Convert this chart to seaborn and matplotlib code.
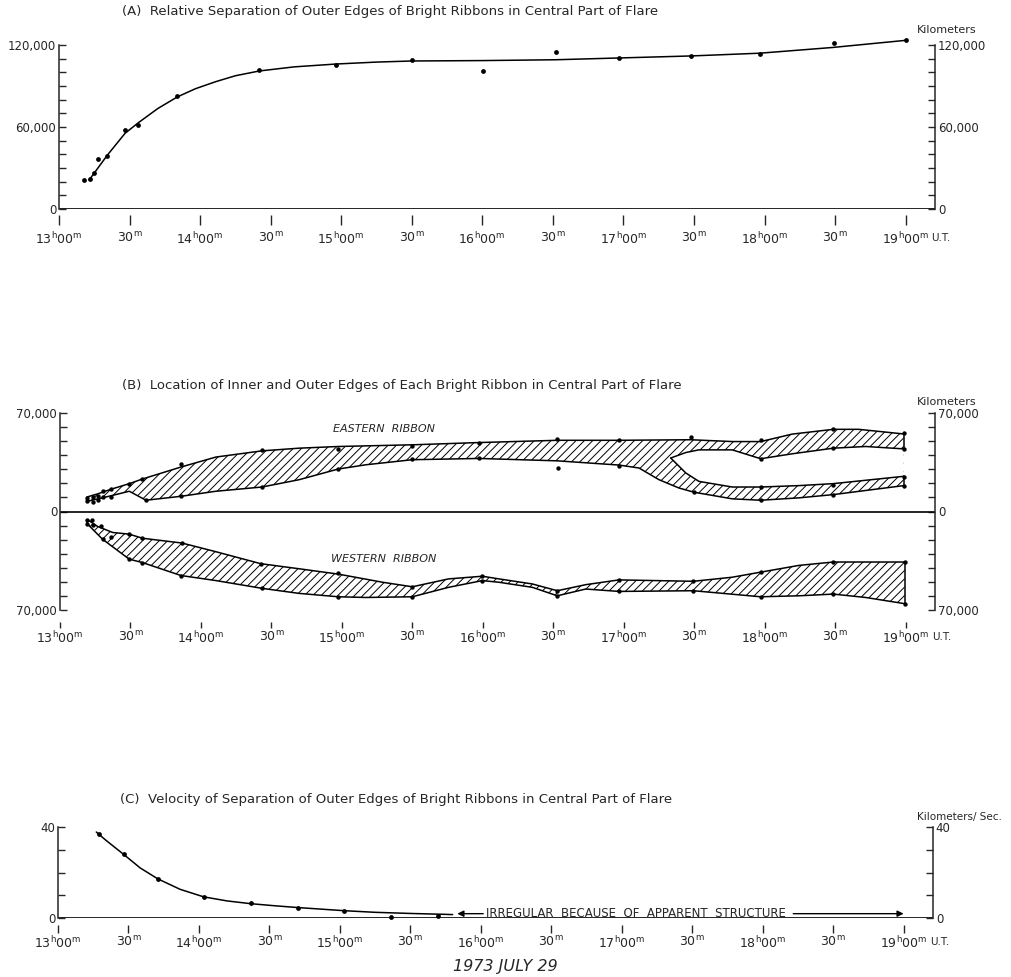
import numpy as np
import matplotlib
matplotlib.use("Agg")
import matplotlib.pyplot as plt
from matplotlib.ticker import MultipleLocator
import seaborn as sns

# time axis: minutes after 13h00m U.T., 1973 July 29
tick_min = [0, 30, 60, 90, 120, 150, 180, 210, 240, 270, 300, 330, 360]
tick_labels = [r"$\mathrm{13^h00^m}$", r"$\mathrm{30^m}$", r"$\mathrm{14^h00^m}$",
               r"$\mathrm{30^m}$", r"$\mathrm{15^h00^m}$", r"$\mathrm{30^m}$",
               r"$\mathrm{16^h00^m}$", r"$\mathrm{30^m}$", r"$\mathrm{17^h00^m}$",
               r"$\mathrm{30^m}$", r"$\mathrm{18^h00^m}$", r"$\mathrm{30^m}$",
               r"$\mathrm{19^h00^m}$"]

# (A) separation of outer edges, km
a_pts_t = [10.6, 13.2, 14.9, 16.6, 20.4, 28.1, 33.7, 50.3, 85.2, 118, 150, 180.2,
           211.3, 238.2, 268.8, 298.2, 329.7, 360]
a_pts_v = [21200, 22000, 26300, 36600, 38800, 57800, 61500, 82700, 101700, 105400,
           109000, 101000, 114900, 110500, 112000, 113400, 121500, 123700]
a_fit_t = [12.8, 14.9, 20.6, 28.1, 33.8, 42, 50.3, 58, 66.7, 75, 85.2, 100, 118, 135,
           150, 180, 211, 238, 269, 298, 329, 360]
a_fit_v = [21200, 26100, 39500, 55400, 63200, 73500, 82000, 88000, 93200, 97500,
           101000, 104000, 106100, 107500, 108300, 108600, 109200, 110500, 112000,
           114000, 118200, 123400]

# (B) eastern ribbon edges, km
e_out_t = [11.7, 16.0, 21.7, 29.5, 35.1, 51.5, 66.4, 86, 101.8, 118.5, 150, 178.4,
           211.7, 238, 268.5, 286.2, 298.3, 311.7, 329.2, 340, 359.2]
e_out_v = [10400, 12500, 15800, 19800, 23100, 31600, 38700, 43100, 45000, 46200,
           47400, 49000, 50600, 50600, 51000, 49700, 49700, 55000, 58400, 58400, 55100]
e_in_t = [11.7, 18.1, 29.5, 36.6, 51.5, 66.4, 86, 101.8, 118.5, 130.2, 150, 178.4,
          211.7, 238, 246.5, 255, 263.5, 269.9, 286.2, 298.3, 314.6, 329.2, 359.2]
e_in_v = [7300, 9700, 14400, 8000, 10800, 14400, 17400, 22600, 30200, 33200, 36800,
          37700, 36000, 33000, 30900, 22600, 16700, 13700, 9000, 8000, 9700, 12000, 18400]
e_gap_top_t = [260, 266.4, 272, 286.2, 298.3, 311.7, 329.2, 343, 359.2]
e_gap_top_v = [38000, 41900, 43800, 43800, 37500, 41000, 45000, 46200, 44500]
e_gap_bot_t = [260, 266.4, 272, 286.2, 298.3, 314.6, 329.2, 359.2]
e_gap_bot_v = [38000, 27400, 21400, 17400, 17400, 18400, 19800, 25000]
e_dot_t = [11.7, 11.7, 13.9, 13.9, 16.0, 16.0, 18.1, 18.1, 21.7, 21.7, 29.5, 35.1,
           36.6, 51.5, 51.5, 86, 86, 118.5, 118.5, 150, 150, 178.4, 178.4, 211.7, 212,
           238, 238, 268.5, 269.9, 298.3, 298.3, 298.3, 298.3, 329.2, 329.2, 329.2,
           329.2, 359.2, 359.2, 359.2, 359.2]
e_dot_v = [9700, 7300, 10400, 6800, 11300, 8500, 14800, 10400, 16300, 10400, 19800,
           23100, 8000, 33900, 10800, 43400, 17400, 44300, 30200, 46700, 37200, 48500,
           37700, 51400, 30900, 50900, 32500, 52600, 13700, 50900, 37200, 17400, 8000,
           58400, 45000, 19100, 12000, 55600, 44500, 24500, 18400]

# (B) western ribbon edges, km (west of centre, plotted downward)
w_top_t = [11.7, 16, 22.4, 29.5, 35.1, 51.9, 66.4, 85.5, 101.8, 118.5, 137.4, 150,
           165.4, 179.8, 186.9, 201.1, 211.7, 223.8, 238, 269.6, 286.2, 298.3, 314.6,
           329.2, 359.6]
w_top_v = [-5800, -10600, -14900, -16100, -19000, -22400, -28600, -37100, -40700,
           -44500, -50300, -53500, -47900, -46000, -47900, -51500, -56300, -52000,
           -48600, -49600, -46700, -43100, -38300, -35900, -35900]
w_bot_t = [11.7, 18.1, 29.5, 35.1, 51.5, 66.4, 86, 101.8, 118.5, 130.2, 150, 165.4,
           179.8, 186.9, 201.1, 211.7, 223.8, 238, 269.6, 298.3, 314.6, 329.2, 343,
           359.6]
w_bot_v = [-8900, -19700, -33900, -36300, -45500, -49100, -54600, -58200, -60600,
           -61100, -60600, -53900, -49100, -50300, -53900, -59900, -55100, -56800,
           -56300, -60600, -59900, -58700, -61100, -65500]
w_dot_t = [11.7, 13.6, 11.7, 13.9, 17.4, 18.1, 21.7, 29.5, 29.5, 35.1, 35.1, 51.9,
           51.5, 85.5, 86, 118.5, 118.5, 150, 150, 179.8, 179.8, 211.7, 211.7, 238,
           238, 269.6, 269.6, 298.3, 298.3, 329.2, 329.2, 359.6, 359.6]
w_dot_v = [-5800, -5800, -8900, -9400, -10600, -19700, -17800, -16100, -33900,
           -19000, -36300, -22100, -45500, -37100, -54600, -43800, -60600, -53900,
           -60600, -45500, -49100, -56800, -59900, -48600, -56800, -49600, -56300,
           -43100, -60600, -35900, -58700, -35900, -65500]

# (C) velocity of separation, km/s
c_pts_t = [17.4, 27.9, 42.5, 62, 82.2, 102, 121.9, 141.8, 161.6]
c_pts_v = [36.8, 28.0, 17.0, 9.2, 6.8, 4.6, 3.2, 0.3, 1.0]
c_fit_t = [16.3, 20, 27.9, 35, 42.5, 52, 62, 72, 82, 92, 102, 112, 122, 135, 150,
           165, 168]
c_fit_v = [37.8, 34.5, 28.0, 22.0, 17.2, 12.6, 9.3, 7.5, 6.3, 5.4, 4.6, 3.9, 3.2,
           2.5, 2.0, 1.6, 1.5]

sns.set_style("ticks")
plt.rcParams["font.family"] = ["DejaVu Sans"]
plt.rcParams["hatch.linewidth"] = 0.7
plt.rcParams["axes.linewidth"] = 1.1

W, H = 1012, 977
PT = 0.72  # points per pixel at dpi 100
fig = plt.figure(figsize=(W / 100, H / 100), dpi=100)


def px_axes(left, top, right, bottom):
    return fig.add_axes([left / W, 1 - bottom / H, (right - left) / W, (bottom - top) / H])


def style_axis(ax, ylim, yticks, ylabels, minor, offset, tick_len, label_gap):
    # offset, tick_len, label_gap in pixels below the bottom of the axes
    ax.set_facecolor("none")
    ax.set_xlim(0, 372.5)
    ax.set_ylim(*ylim)
    ax.set_yticks(yticks, ylabels)
    ax.yaxis.set_minor_locator(MultipleLocator(minor))
    ax.tick_params(axis="y", which="both", direction="in", length=5, width=1,
                   left=True, right=True, labelleft=True, labelright=True,
                   labelsize=8.5, pad=2)
    ax.set_xticks(tick_min, tick_labels)
    pad = label_gap - offset - tick_len - 7
    ax.tick_params(axis="x", direction="out", length=tick_len * PT, width=1,
                   pad=pad * PT, labelsize=9)
    ax.spines["top"].set_visible(False)
    ax.spines["bottom"].set_position(("outward", offset * PT))
    ax.spines["bottom"].set_visible(False)
    ax.axhline(0, color="black", lw=1.2)
    ax.set_xlabel("")
    ax.set_ylabel("")
    ax.annotate("U.T.", xy=(360, 0), xycoords=("data", "axes fraction"),
                xytext=(26, -label_gap), textcoords="offset pixels",
                ha="left", va="center", fontsize=7.5)


# ---- (A)
ax = px_axes(59, 45, 935, 209)
sns.lineplot(x=a_fit_t, y=a_fit_v, ax=ax, color="black", lw=1.1, estimator=None,
             clip_on=False)
sns.scatterplot(x=a_pts_t, y=a_pts_v, ax=ax, color="black", s=12, linewidth=0,
                zorder=4, clip_on=False)
style_axis(ax, (0, 120000), [0, 60000, 120000], ["0", "60,000", "120,000"], 10000,
           6, 10, 29)
ax.text(1.013, 1.06, "Kilometers", transform=ax.transAxes, ha="center", va="bottom",
        fontsize=8)

# ---- (B)
ax = px_axes(60, 413, 935, 610)
ax.fill(np.r_[e_out_t, e_in_t[::-1]], np.r_[e_out_v, e_in_v[::-1]],
        facecolor="white", edgecolor="black", hatch="////", lw=0, zorder=2)
ax.fill(np.r_[e_gap_top_t, e_gap_bot_t[::-1]], np.r_[e_gap_top_v, e_gap_bot_v[::-1]],
        facecolor="white", edgecolor="white", lw=0, zorder=2.5)
ax.fill(np.r_[w_top_t, w_bot_t[::-1]], np.r_[w_top_v, w_bot_v[::-1]],
        facecolor="white", edgecolor="black", hatch="////", lw=0, zorder=2)
for et, ev in [(e_out_t, e_out_v), (e_in_t, e_in_v), (e_gap_top_t, e_gap_top_v),
               (e_gap_bot_t, e_gap_bot_v), (w_top_t, w_top_v), (w_bot_t, w_bot_v)]:
    sns.lineplot(x=et, y=ev, ax=ax, color="black", lw=1.1, estimator=None, sort=False,
                 zorder=3)
# closing edges at each end of the ribbons
ax.plot([e_out_t[0], e_in_t[0]], [e_out_v[0], e_in_v[0]], color="black", lw=1.1, zorder=3)
ax.plot([e_out_t[-1], e_gap_top_t[-1]], [e_out_v[-1], e_gap_top_v[-1]], color="black", lw=1.1, zorder=3)
ax.plot([e_gap_bot_t[-1], e_in_t[-1]], [e_gap_bot_v[-1], e_in_v[-1]], color="black", lw=1.1, zorder=3)
ax.plot([w_top_t[0], w_bot_t[0]], [w_top_v[0], w_bot_v[0]], color="black", lw=1.1, zorder=3)
ax.plot([w_top_t[-1], w_bot_t[-1]], [w_top_v[-1], w_bot_v[-1]], color="black", lw=1.1, zorder=3)
sns.scatterplot(x=e_dot_t, y=e_dot_v, ax=ax, color="black", s=10, linewidth=0, zorder=4)
sns.scatterplot(x=w_dot_t, y=w_dot_v, ax=ax, color="black", s=10, linewidth=0, zorder=4)
style_axis(ax, (-70000, 70000), [-70000, 0, 70000], ["70,000", "0", "70,000"], 10000,
           12, 6, 27)
ax.text(0.37, 0.92, "EASTERN  RIBBON", transform=ax.transAxes, ha="center", va="center",
        fontsize=8, style="italic")
ax.text(0.37, 0.26, "WESTERN  RIBBON", transform=ax.transAxes, ha="center", va="center",
        fontsize=8, style="italic")
ax.text(1.013, 1.03, "Kilometers", transform=ax.transAxes, ha="center", va="bottom",
        fontsize=8)

# ---- (C)
ax = px_axes(58, 827, 933, 918)
sns.lineplot(x=c_fit_t, y=c_fit_v, ax=ax, color="black", lw=1.1, estimator=None)
sns.scatterplot(x=c_pts_t, y=c_pts_v, ax=ax, color="black", s=12, linewidth=0,
                zorder=4, clip_on=False)
style_axis(ax, (0, 40), [0, 40], ["0", "40"], 10, 7, 8, 24)
ax.text(182, 0.5, "IRREGULAR  BECAUSE  OF  APPARENT  STRUCTURE", ha="left",
        va="baseline", fontsize=8.5)
ax.annotate("", xy=(170, 1.9), xytext=(181, 1.9),
            arrowprops=dict(arrowstyle="-|>", color="black", lw=1, mutation_scale=9,
                            shrinkA=0, shrinkB=0))
ax.annotate("", xy=(360, 1.9), xytext=(313, 1.9),
            arrowprops=dict(arrowstyle="-|>", color="black", lw=1, mutation_scale=9,
                            shrinkA=0, shrinkB=0))
ax.text(1.03, 1.05, "Kilometers/ Sec.", transform=ax.transAxes, ha="center",
        va="bottom", fontsize=7.5)

# titles and date
fig.text(122 / W, 1 - 12 / H,
         "(A)  Relative Separation of Outer Edges of Bright Ribbons in Central Part of Flare",
         ha="left", va="center", fontsize=9.5)
fig.text(122 / W, 1 - 385 / H,
         "(B)  Location of Inner and Outer Edges of Each Bright Ribbon in Central Part of Flare",
         ha="left", va="center", fontsize=9.5)
fig.text(120 / W, 1 - 800 / H,
         "(C)  Velocity of Separation of Outer Edges of Bright Ribbons in Central Part of Flare",
         ha="left", va="center", fontsize=9.5)
fig.text(505 / W, 1 - 967 / H, "1973 JULY 29", ha="center", va="center",
         fontsize=11.5, style="italic")

fig.savefig("out.png", dpi=100)
